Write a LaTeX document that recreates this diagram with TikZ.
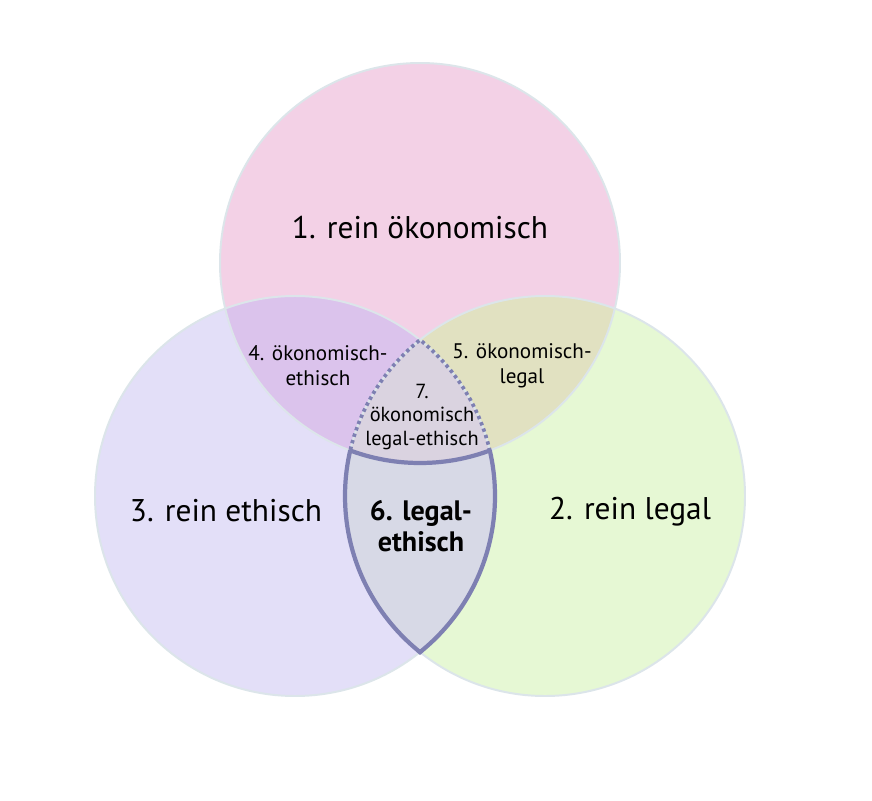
\documentclass[tikz,border=0pt]{standalone}
\usepackage{fontspec}
\setmainfont{PT Sans}
\definecolor{oekfill}{HTML}{F3D1E6}
\definecolor{ethfill}{HTML}{E3DFF8}
\definecolor{legfill}{HTML}{E6F8D4}
\definecolor{oekethfill}{HTML}{DBC3EC}
\definecolor{oeklegfill}{HTML}{E1E1C1}
\definecolor{allfill}{HTML}{DAD3E0}
\definecolor{legethfill}{HTML}{D7D9E6}
\definecolor{ringline}{HTML}{DCE5EA}
\definecolor{lensline}{HTML}{7E80B2}
\begin{document}
\begin{tikzpicture}
        [x=0.025cm,y=-0.025cm,
        ring/.style={draw=ringline,line width=1.4pt},
        lens/.style={draw=lensline,line width=3pt},
        lensdots/.style={draw=lensline,line width=2.6pt,dash pattern=on 2.4pt off 2.4pt},
        big/.style={font=\fontsize{22.3}{26}\selectfont},
        small/.style={font=\fontsize{15}{17.8}\selectfont,align=center},
        tiny/.style={font=\fontsize{14.5}{17}\selectfont,align=center},
        bold/.style={font=\fontsize{20}{22}\selectfont\bfseries,align=center}]
    \fill[white] (0,0) rectangle (872,800);
    \useasboundingbox (0,0) rectangle (872,800);
    \coordinate (oek) at (420,263);
    \coordinate (eth) at (295,496);
    \coordinate (leg) at (545,496);
    % circles and overlaps
    \fill[oekfill] (oek) circle (200);
    \fill[ethfill] (eth) circle (200);
    \fill[legfill] (leg) circle (200);
    \begin{scope}
        \clip (oek) circle (200);
        \fill[oekethfill] (eth) circle (200);
        \fill[oeklegfill] (leg) circle (200);
    \end{scope}
    \begin{scope}
        \clip (eth) circle (200);
        \fill[legethfill] (leg) circle (200);
        \clip (oek) circle (200);
        \fill[allfill] (leg) circle (200);
    \end{scope}
    \foreach \c in {oek,eth,leg}
        \draw[ring] (\c) circle (200);
    % lens outline: solid below, dotted inside the top circle
    \begin{scope}[even odd rule]
        \clip (0,0) rectangle (872,800) (oek) circle (200);
        \begin{scope} \clip (eth) circle (202); \draw[lens] (leg) circle (200); \end{scope}
        \begin{scope} \clip (leg) circle (202); \draw[lens] (eth) circle (200); \end{scope}
    \end{scope}
    \begin{scope}
        \clip (oek) circle (200);
        \begin{scope} \clip (eth) circle (201); \draw[lensdots] (leg) circle (200); \end{scope}
        \begin{scope} \clip (leg) circle (201); \draw[lensdots] (eth) circle (200); \end{scope}
    \end{scope}
    \begin{scope}
        \clip (eth) circle (201); \clip (leg) circle (201);
        \draw[lens] (oek) circle (200);
    \end{scope}
    % labels
    \node[big] (reinoek) at (420,228) {1. rein ökonomisch};
    \node[big] (reineth) at (226,511) {3. rein ethisch};
    \node[big] (reinleg) at (630,512) {2. rein legal};
    \node[small] (oeketh) at (318,366) {4. ökonomisch-\\ethisch};
    \node[small] (oekleg) at (522,366) {5. ökonomisch-\\legal};
    \node[tiny] (alle) at (422,417) {7.\\ökonomisch\\legal-ethisch};
    \node[bold] (legeth) at (421,526) {6. legal-\\ethisch};
\end{tikzpicture}
\end{document}
